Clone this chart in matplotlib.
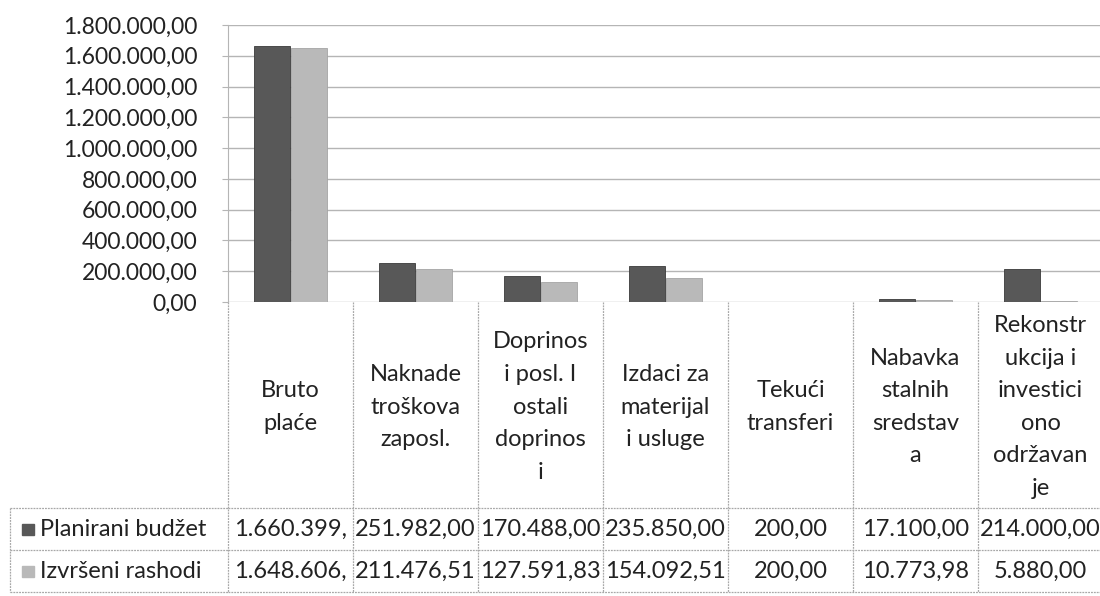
import matplotlib.pyplot as plt
import matplotlib.transforms as mtransforms
import numpy as np

# Categories (as they wrap in the data table) and series values
categories = ["Bruto\nplaće", "Naknade\ntroškova\nzaposl.", "Doprinos\ni posl. I\nostali\ndoprinos\ni",
              "Izdaci za\nmaterijal\ni usluge", "Tekući\ntransferi", "Nabavka\nstalnih\nsredstav\na",
              "Rekonstr\nukcija i\ninvestici\nono\nodržavan\nje"]
series_names = ["Planirani budžet", "Izvršeni rashodi"]
planirani = [1660399.00, 251982.00, 170488.00, 235850.00, 200.00, 17100.00, 214000.00]
izvrseni = [1648606.00, 211476.51, 127591.83, 154092.51, 200.00, 10773.98, 5880.00]
y_ticks = [0, 200000, 400000, 600000, 800000, 1000000, 1200000, 1400000, 1600000, 1800000]

colors = ["#585858", "#b9b9b9"]
grid_col = "#b5b5b5"
font = ["Lato", "DejaVu Sans"]
fs = 17

plt.rcParams['font.family'] = font


def hr_fmt(v):
    # Croatian number format: 1.234.567,89
    s = f"{v:,.2f}"
    return s.replace(",", "X").replace(".", ",").replace("X", ".")


W, H = 1100, 596
fig = plt.figure(figsize=(W / 100, H / 100), dpi=100)

# plot area in pixels
x0, x1 = 228, 1103
y_top, y_zero = 25, 302
ax = fig.add_axes([x0 / W, 1 - y_zero / H, (x1 - x0) / W, (y_zero - y_top) / H])

x = np.arange(len(categories))
bw = 0.29
ax.bar(x - 0.15, planirani, width=bw, color=colors[0], edgecolor="#3a3a3a", linewidth=0.6, zorder=3)
ax.bar(x + 0.15, izvrseni, width=bw, color=colors[1], edgecolor="#a5a5a5", linewidth=0.6, zorder=3)

ax.set_xlim(-0.5, len(categories) - 0.5)
ax.set_ylim(0, 1800000)
ax.set_yticks(y_ticks)
ax.set_yticklabels([hr_fmt(v) for v in y_ticks], fontsize=16.5, color="#222222")
ax.tick_params(axis="y", length=4, color=grid_col, pad=18)
ax.set_xticks([])
ax.grid(axis="y", color=grid_col, linewidth=1.0, zorder=0)
for side in ["top", "right", "bottom"]:
    ax.spines[side].set_visible(False)
ax.spines["left"].set_color(grid_col)

# data table below the plot
tr = mtransforms.blended_transform_factory(ax.transData, fig.transFigure)
fy = lambda py: 1 - py / H
header_top, header_bot, row1_bot, row2_bot = 302, 508, 550, 592
line_kw = dict(color="#a8a8a8", linewidth=0.9, linestyle=(0, (1.5, 0.8)), clip_on=False)

# vertical lines of the columns
for i in range(len(categories) + 1):
    ax.plot([i - 0.5, i - 0.5], [fy(header_top), fy(row2_bot)], transform=tr, **line_kw)
# horizontal lines
for py in [header_bot, row1_bot, row2_bot]:
    ax.plot([-0.5, len(categories) - 0.5], [fy(py), fy(py)], transform=tr, **line_kw)
# legend column box
lx = 10 / W
for py in [header_bot, row1_bot, row2_bot]:
    ax.plot([lx, x0 / W], [fy(py), fy(py)], transform=fig.transFigure, **line_kw)
ax.plot([lx, lx], [fy(header_bot), fy(row2_bot)], transform=fig.transFigure, **line_kw)

# category headers
for i, cat in enumerate(categories):
    ax.text(i, fy((header_top + header_bot) / 2 + 2), cat, transform=tr, ha="center", va="center",
            fontsize=fs, linespacing=1.68, color="#222222", clip_on=False)

# value rows
rows = [(planirani, header_bot, row1_bot), (izvrseni, row1_bot, row2_bot)]
for r, (vals, ta, tb) in enumerate(rows):
    yc = fy((ta + tb) / 2)
    for i, v in enumerate(vals):
        s = hr_fmt(v)
        if len(s) > 10:
            s = s[:10]
        ax.text(i, yc, s, transform=tr, ha="center", va="center", fontsize=fs,
                color="#222222", clip_on=False)
    # legend key and series name
    fig.patches.append(plt.Rectangle((22 / W, yc - 5.5 / H), 12 / W, 11 / H,
                                     transform=fig.transFigure, color=colors[r], figure=fig))
    fig.text(40 / W, yc, series_names[r], ha="left", va="center", fontsize=fs, color="#222222")

fig.savefig("out.png", dpi=100, facecolor="white")
